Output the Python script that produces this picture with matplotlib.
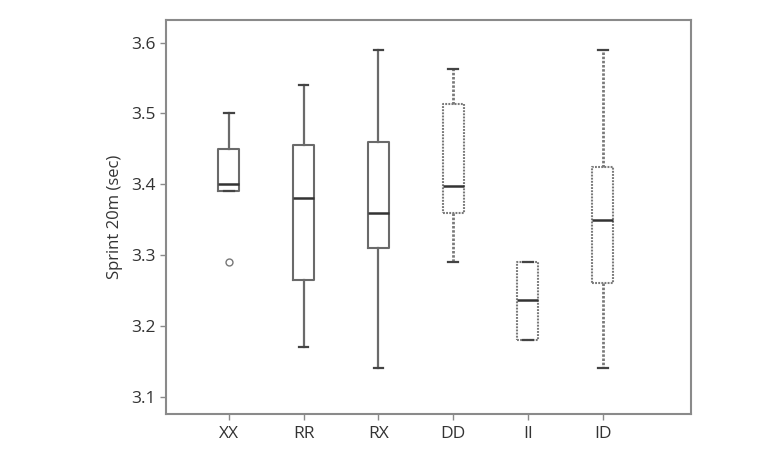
# Box plot of 20m sprint times by genotype group
import numpy as np
import matplotlib.pyplot as plt

plt.rcParams['font.family'] = ['Open Sans', 'DejaVu Sans']

# Data
groups = ['XX', 'RR', 'RX', 'DD', 'II', 'ID']
whisker_low = [3.39, 3.17, 3.14, 3.29, 3.18, 3.14]
q1 = [3.39, 3.265, 3.31, 3.36, 3.18, 3.26]
median = [3.40, 3.38, 3.36, 3.397, 3.236, 3.35]
q3 = [3.45, 3.455, 3.46, 3.513, 3.29, 3.425]
whisker_high = [3.50, 3.54, 3.59, 3.563, 3.29, 3.59]
outliers = [[3.29], [], [], [], [], []]

yticks = [3.1, 3.2, 3.3, 3.4, 3.5, 3.6]

# first three groups drawn solid, last three dotted
dotted_groups = ['DD', 'II', 'ID']

stats = []
for i in range(len(groups)):
    stats.append({'label': groups[i], 'whislo': whisker_low[i], 'q1': q1[i],
                  'med': median[i], 'q3': q3[i], 'whishi': whisker_high[i],
                  'fliers': outliers[i]})

fig = plt.figure(figsize=(7.59, 4.53), dpi=100)
ax = fig.add_axes([166 / 759, 1 - 414 / 453, (691 - 166) / 759, (414 - 20) / 453])

for i, s in enumerate(stats):
    dotted = s['label'] in dotted_groups
    ls = (0, (0.9, 0.6)) if dotted else '-'
    col = '#7a7a7a' if dotted else '#6a6a6a'
    ax.bxp([s], positions=[i + 1], widths=0.28, showfliers=True,
           boxprops=dict(color=col, linewidth=1.5, linestyle=ls),
           whiskerprops=dict(color=col, linewidth=2.0 if dotted else 1.6, linestyle=ls),
           capprops=dict(color='#444444', linewidth=1.6),
           medianprops=dict(color='#333333', linewidth=1.8),
           flierprops=dict(marker='o', markersize=5, markerfacecolor='white',
                           markeredgecolor='#777777', markeredgewidth=1.0),
           capwidths=0.13)

ax.set_xlim(0.16, 7.18)
ax.set_ylim(3.0756, 3.632)
ax.set_xticks(range(1, len(groups) + 1))
ax.set_xticklabels(groups)
ax.set_yticks(yticks)
ax.set_yticklabels([f'{t:.1f}' for t in yticks])

for sp in ax.spines.values():
    sp.set_color('#8a8a8a')
    sp.set_linewidth(1.5)
ax.tick_params(axis='both', colors='#8a8a8a', labelcolor='#333333',
               labelsize=12.5, length=4, width=1)
ax.tick_params(axis='x', pad=5)
ax.set_ylabel('Sprint 20m (sec)', fontsize=12, color='#333333', labelpad=6)

fig.savefig('out.png', dpi=100)
